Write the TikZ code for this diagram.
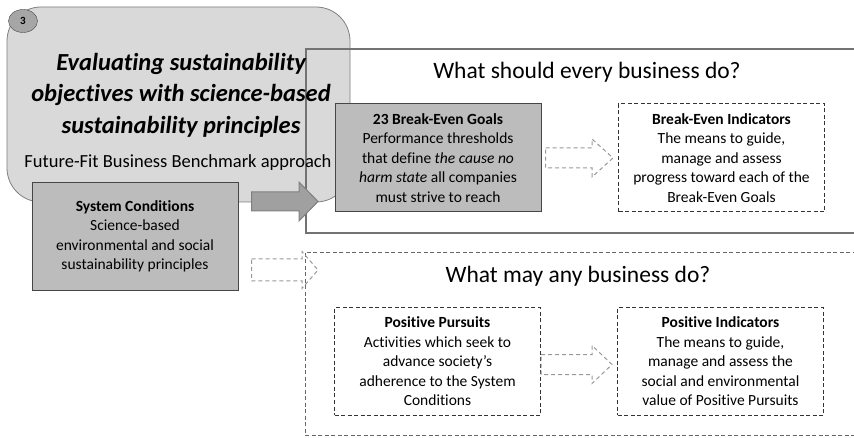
\documentclass[tikz,border=0pt]{standalone}
\usepackage{fontspec}
\setmainfont{Carlito}[Ligatures=NoCommon]
\usetikzlibrary{calc,shapes.geometric}

\definecolor{panelgray}{RGB}{217,217,217}
\definecolor{boxgray}{RGB}{188,188,188}
\definecolor{arrowgray}{RGB}{160,160,160}
\definecolor{edgegray}{RGB}{70,70,70}

\tikzset{
  panel/.style={draw=black!50, fill=panelgray, line width=0.8pt, rounded corners=34pt},
  badge/.style={ellipse, draw=black!70, fill=black!35, minimum width=29pt, minimum height=23pt,
    inner sep=0pt, font=\bfseries\fontsize{11}{12}\selectfont},
  paneltitle/.style={align=center, font=\bfseries\itshape\fontsize{24.5}{31.5}\selectfont},
  frametitle/.style={font=\fontsize{23.5}{27}\selectfont},
  goalbox/.style={draw=edgegray, fill=boxgray, line width=1pt, minimum width=206pt,
    minimum height=108pt, align=center, inner sep=0pt, font=\fontsize{15.5}{19.5}\selectfont},
  indbox/.style={goalbox, fill=none, draw=black!80, dash pattern=on 4pt off 2.5pt},
  shouldframe/.style={draw=black!55, line width=1.5pt},
  mayframe/.style={draw=black!60, line width=1pt, dash pattern=on 4pt off 2.5pt},
  fatarrow/.style={draw=black!50, fill=arrowgray, line width=1pt},
  softarrow/.style={draw=black!40, line width=1pt, dash pattern=on 4pt off 3pt}
}

% block arrow: style, start, tip, half body, half head, head length
\newcommand{\fatarrowpath}[6][]{%
  \draw[#1] let \p1=(#2), \p2=(#3) in
    (\x1,\y1+#4) -- (\x2-#6,\y1+#4) -- (\x2-#6,\y1+#5) -- (\x2,\y1)
    -- (\x2-#6,\y1-#5) -- (\x2-#6,\y1-#4) -- (\x1,\y1-#4) -- cycle;}

\begin{document}
\begin{tikzpicture}[x=1pt,y=-1pt]
\clip (0,0) rectangle (854,438);
\fill[white] (0,0) rectangle (854,438);

% title panel
\draw[panel] (7,7) rectangle (350,202);
\node[badge] (num) at (23,21) {3};

% the two frames
\draw[shouldframe] (306,49) rectangle (870,233);
\draw[mayframe] (305,253) rectangle (870,435);

\node[paneltitle] (title) at (181,95) {Evaluating sustainability\\objectives with science-based\\sustainability principles};
\node[font=\fontsize{18.5}{22}\selectfont, anchor=base] (approach) at (178,168) {Future-Fit Business Benchmark approach};

\node[frametitle] (should) at (587,72) {What should every business do?};
\node[frametitle] (may) at (578,276) {What may any business do?};

% boxes
\node[goalbox] (sysc) at (135,236.5) {\textbf{System Conditions}\\Science-based\\environmental and social\\sustainability principles};
\node[goalbox] (goals) at (438,158) {\textbf{23 Break-Even Goals}\\Performance thresholds\\that define \textit{the cause no}\\\textit{harm state} all companies\\must strive to reach};
\node[indbox] (bei) at (721.5,158) {\textbf{Break-Even Indicators}\\The means to guide,\\manage and assess\\progress toward each of the\\Break-Even Goals};
\node[indbox, minimum height=107pt] (pp) at (437.5,361.5) {\textbf{Positive Pursuits}\\Activities which seek to\\advance society’s\\adherence to the System\\Conditions};
\node[indbox, minimum height=107pt] (pi) at (720.5,361.5) {\textbf{Positive Indicators}\\The means to guide,\\manage and assess the\\social and environmental\\value of Positive Pursuits};

% arrows
\coordinate (shouldtip) at (318,202.5);
\coordinate (maytip) at (318,271);
\fatarrowpath[fatarrow]{$(sysc.north east)+(13,19.5)$}{shouldtip}{9.5pt}{19.5pt}{19pt}
\fatarrowpath[softarrow]{$(sysc.north east)+(13,88)$}{maytip}{11pt}{18.5pt}{16pt}
\fatarrowpath[softarrow]{$(goals.east)+(4,0)$}{$(bei.west)+(-5,0)$}{10pt}{19pt}{21pt}
\fatarrowpath[softarrow]{$(pp.east)+(0,3)$}{$(pi.west)+(-5,0)$}{10pt}{19pt}{20pt}
\end{tikzpicture}
\end{document}
